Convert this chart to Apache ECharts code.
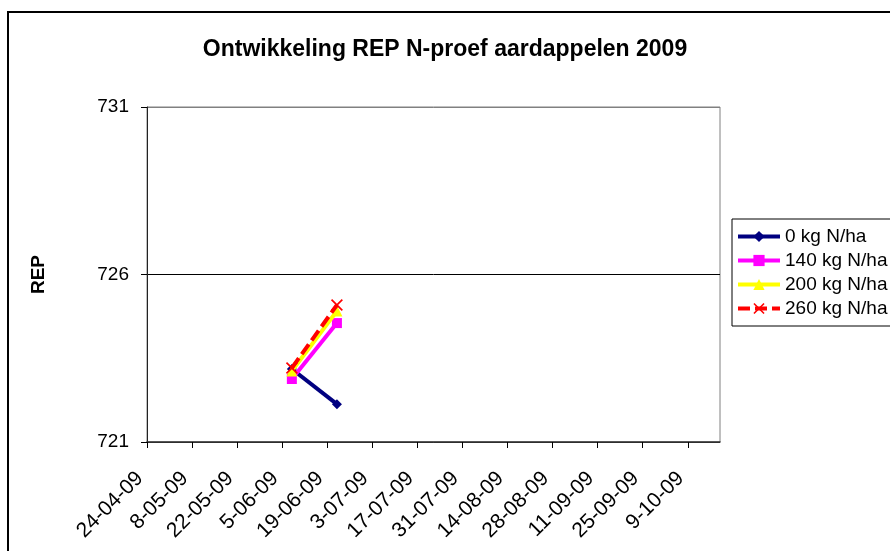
<!DOCTYPE html>
<html>
<head>
<meta charset="utf-8">
<script src="https://cdn.jsdelivr.net/npm/echarts@6/dist/echarts.min.js"></script>
<style>
html,body{margin:0;padding:0;background:#fff;}
#chart{width:890px;height:551px;}
</style>
</head>
<body>
<div id="chart"></div>
<script>
// ---- data ----
var titleText = 'Ontwikkeling REP N-proef aardappelen 2009';
var yAxisName = 'REP';
var sampleDates = ['2009-06-08', '2009-06-22'];
var seriesNames = ['0 kg N/ha', '140 kg N/ha', '200 kg N/ha', '260 kg N/ha'];
var rep0 = [723.18, 722.13];
var rep140 = [722.88, 724.55];
var rep200 = [723.12, 724.91];
var rep260 = [723.21, 725.09];
var xTickDates = ['2009-04-24','2009-05-08','2009-05-22','2009-06-05','2009-06-19','2009-07-03','2009-07-17','2009-07-31','2009-08-14','2009-08-28','2009-09-11','2009-09-25','2009-10-09'];
var xMinDate = '2009-04-24';
var xMaxDate = '2009-10-19';
var yMin = 721, yMax = 731, yStep = 5;

// ---- helpers ----
function ts(s){ var p = s.split('-'); return Date.UTC(+p[0], +p[1]-1, +p[2]); }
function pad2(n){ return (n < 10 ? '0' : '') + n; }
function fmtDate(v){
  var d = new Date(v);
  return d.getUTCDate() + '-' + pad2(d.getUTCMonth()+1) + '-' + pad2(d.getUTCFullYear() % 100);
}
function pairs(vals){ return vals.map(function(v, i){ return [ts(sampleDates[i]), v]; }); }

var FONT = 'Liberation Sans, Arial, sans-serif';
var crossPath = 'path://M0,1 L1,0 L5,4 L9,0 L10,1 L6,5 L10,9 L9,10 L5,6 L1,10 L0,9 L4,5 Z';

var styles = [
  {color:'#000080', symbol:'diamond', size:10, type:'solid'},
  {color:'#FF00FF', symbol:'rect', size:10, type:'solid'},
  {color:'#FFFF00', symbol:'triangle', size:11, type:'solid'},
  {color:'#FF0000', symbol:crossPath, size:12, type:[12,5]}
];
var values = [rep0, rep140, rep200, rep260];

var series = seriesNames.map(function(name, i){
  var st = styles[i];
  return {
    name: name,
    type: 'line',
    data: pairs(values[i]),
    symbol: st.symbol,
    symbolSize: st.size,
    showAllSymbol: true,
    lineStyle: {color: st.color, width: 4, type: st.type},
    itemStyle: {color: st.color, borderWidth: 0},
    emphasis: {disabled: true},
    z: 2 + i
  };
});

var chart = echarts.init(document.getElementById('chart'), null, {renderer:'canvas'});
chart.setOption({
  animation: false,
  backgroundColor: '#ffffff',
  title: {
    text: titleText,
    left: 'center',
    top: 33,
    textStyle: {fontFamily: FONT, fontSize: 23, fontWeight: 'bold', color: '#000'}
  },
  graphic: [{
    type: 'rect',
    shape: {x: 8, y: 12, width: 900, height: 600},
    style: {fill: 'none', stroke: '#000', lineWidth: 2},
    z: 100
  }],
  legend: {
    orient: 'vertical',
    left: 732,
    top: 219,
    padding: [8, 20, 8, 4],
    itemWidth: 42,
    itemHeight: 14,
    itemGap: 5,
    borderColor: '#000',
    borderWidth: 1,
    lineStyle: {width: 4},
    textStyle: {fontFamily: FONT, fontSize: 19, color: '#000', lineHeight: 19},
    data: seriesNames
  },
  grid: {
    left: 147, top: 107, right: 170, bottom: 109,
    show: true, borderColor: '#808080', borderWidth: 1,
    containLabel: false
  },
  xAxis: {
    type: 'value',
    min: ts(xMinDate),
    max: ts(xMaxDate),
    interval: 14*86400000,
    axisLine: {show: true, onZero: false, lineStyle: {color: '#333', width: 1.5}},
    axisTick: {show: true, inside: false, length: 6, lineStyle: {color: '#000'},
      customValues: xTickDates.map(ts)},
    axisLabel: {
      rotate: 45, margin: 26, color: '#000', fontFamily: FONT, fontSize: 21,
      padding: [0, 10, 0, 0],
      customValues: xTickDates.map(ts),
      formatter: function(v){ return fmtDate(v); }
    },
    splitLine: {show: false}
  },
  yAxis: {
    type: 'value',
    min: yMin, max: yMax, interval: yStep,
    name: yAxisName,
    nameLocation: 'middle',
    nameGap: 99,
    nameMoveOverlap: false,
    nameRotate: 90,
    nameTextStyle: {fontFamily: FONT, fontSize: 19, fontWeight: 'bold', color: '#000'},
    axisLine: {show: true, lineStyle: {color: '#222', width: 1}},
    axisTick: {show: true, inside: false, length: 6, lineStyle: {color: '#000'}},
    axisLabel: {color: '#000', fontFamily: FONT, fontSize: 19, margin: 18},
    splitLine: {show: true, lineStyle: {color: ['#222', '#000', '#808080'], width: 1}}
  },
  series: series
});
</script>
</body>
</html>
